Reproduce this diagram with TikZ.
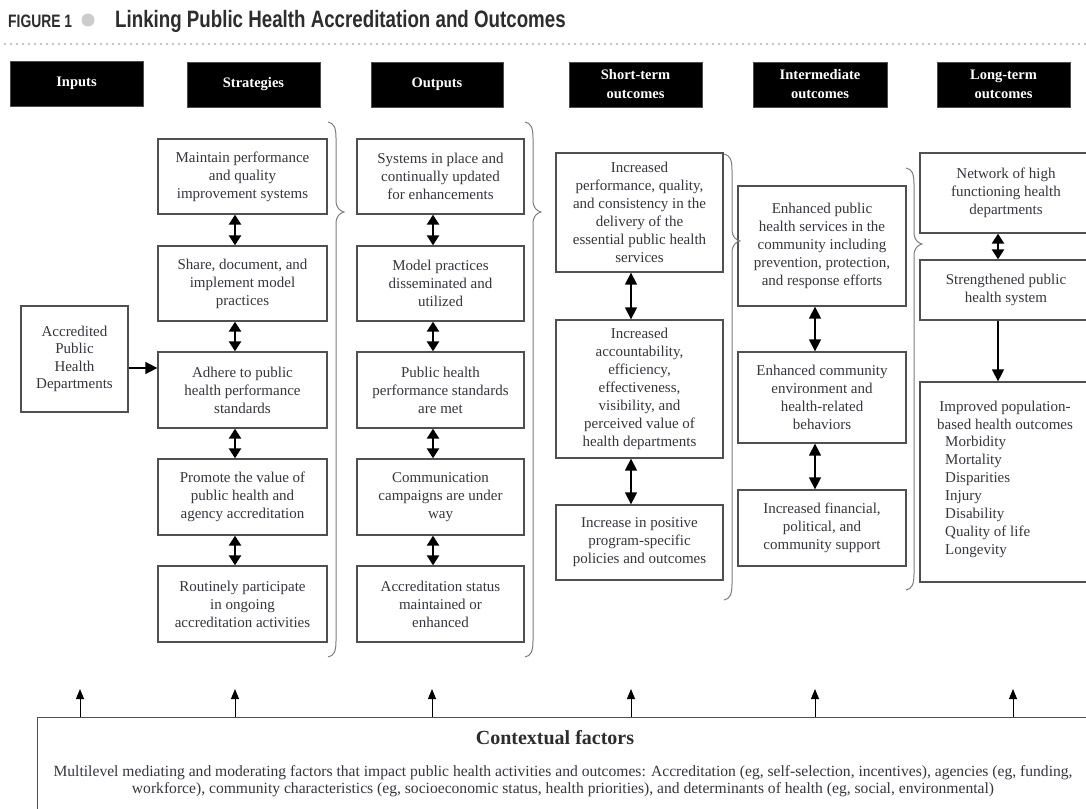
\documentclass[tikz,border=0pt]{standalone}
\usepackage{fontspec}
\setmainfont{Liberation Serif}
\newfontfamily\titlesans{Liberation Sans}
\usetikzlibrary{arrows.meta,calc}
\definecolor{boxgray}{RGB}{80,80,80}
\definecolor{txtgray}{RGB}{55,53,62}
\definecolor{bracegray}{RGB}{125,125,125}
\definecolor{titlegray}{RGB}{45,45,45}
\newcommand\mybrc[4]{%
  \draw[brc] (#1,#2) .. controls (#1+6,#2+1) and (#1+8,#2+6) .. (#1+8,#2+16)
    -- (#1+8,#3-12) .. controls (#1+8,#3-4) and (#1+12,#3-1) .. (#1+16,#3)
    .. controls (#1+12,#3+1) and (#1+8,#3+4) .. (#1+8,#3+12)
    -- (#1+8,#4-16) .. controls (#1+8,#4-6) and (#1+6,#4-1) .. (#1,#4);}
\begin{document}
\begin{tikzpicture}[x=1pt,y=-1pt,
  box/.style={draw=boxgray, line width=1.3pt, align=center, text=txtgray,
    font=\fontsize{15}{18}\selectfont, inner sep=0pt, fill=white},
  hdr/.style={fill=black, draw=black!70, text=white, align=center, inner sep=0pt,
    font=\bfseries\fontsize{14.5}{19}\selectfont},
  txtnode/.style={text=txtgray, inner sep=0pt, font=\fontsize{15}{18}\selectfont},
  brc/.style={draw=bracegray, line width=1pt},
  dbl/.style={line width=2.4pt, {Triangle[length=10pt,width=12pt]}-{Triangle[length=10pt,width=12pt]}},
  dblthin/.style={line width=1.4pt, {Triangle[length=12pt,width=12pt]}-{Triangle[length=12pt,width=12pt]}},
  arr/.style={line width=1.4pt, -{Triangle[length=12pt,width=12pt]}},
  uparr/.style={line width=1pt, -{Triangle[length=10pt,width=8pt]}},
  dotline/.style={draw=gray!60, line width=2.4pt, line cap=round, dash pattern=on 0pt off 6pt}
]
\useasboundingbox (0,0) rectangle (1086,808);
\fill[white] (0,0) rectangle (1086,808);

% title
\node[anchor=west, inner sep=0pt, text=titlegray] (fig) at (8,21)
  {\scalebox{0.77}[1]{\titlesans\bfseries\fontsize{18}{20}\selectfont FIGURE 1}};
\node[circle, fill=gray!40, minimum size=13pt, inner sep=0pt] (dot) at (88,20) {};
\node[anchor=west, inner sep=0pt, text=titlegray] (title) at (115,21)
  {\scalebox{0.79}[1]{\titlesans\bfseries\fontsize{23.7}{26}\selectfont Linking Public Health Accreditation and Outcomes}};
\draw[dotline] (5,44) -- (1086,44);

% headers
\node[hdr, minimum width=133pt, minimum height=45pt] (hin) at (76.5,84) {\raisebox{4pt}{Inputs}};
\node[hdr, minimum width=133pt, minimum height=45pt] (hst) at (253.5,84.5) {\raisebox{2pt}{Strategies}};
\node[hdr, minimum width=132pt, minimum height=45pt] (hout) at (437,84.5) {\raisebox{2pt}{Outputs}};
\node[hdr, minimum width=133pt, minimum height=45pt] (hsh) at (635.5,84.5) {Short-term\\outcomes};
\node[hdr, minimum width=134pt, minimum height=45pt] (hint) at (820,84.5) {Intermediate\\outcomes};
\node[hdr, minimum width=133pt, minimum height=45pt] (hlong) at (1003.5,84.5) {Long-term\\outcomes};

% inputs
\node[box, minimum width=107pt, minimum height=106pt, font=\fontsize{15}{17.3}\selectfont] (inp) at (74.5,359)
  {Accredited\\Public\\Health\\Departments};

% strategies
\node[box, minimum width=169pt, minimum height=75pt] (s1) at (242.5,176.5) {Maintain performance\\and quality\\improvement systems};
\node[box, minimum width=169pt, minimum height=75pt] (s2) at (242.5,283.5) {Share, document, and\\implement model\\practices};
\node[box, minimum width=169pt, minimum height=76pt] (s3) at (242.5,390) {Adhere to public\\health performance\\standards};
\node[box, minimum width=169pt, minimum height=76pt] (s4) at (242.5,497) {Promote the value of\\public health and\\agency accreditation};
\node[box, minimum width=169pt, minimum height=76pt] (s5) at (242.5,604) {Routinely participate\\in ongoing\\accreditation activities};

% outputs
\node[box, minimum width=167pt, minimum height=75pt] (o1) at (440.5,176.5) {Systems in place and\\continually updated\\for enhancements};
\node[box, minimum width=167pt, minimum height=75pt] (o2) at (440.5,283.5) {Model practices\\disseminated and\\utilized};
\node[box, minimum width=167pt, minimum height=76pt] (o3) at (440.5,390) {Public health\\performance standards\\are met};
\node[box, minimum width=167pt, minimum height=76pt] (o4) at (440.5,497) {Communication\\campaigns are under\\way};
\node[box, minimum width=167pt, minimum height=76pt] (o5) at (440.5,604) {Accreditation status\\maintained or\\enhanced};

% short-term
\node[box, minimum width=167pt, minimum height=119pt] (t1) at (639.5,212.5) {Increased\\performance, quality,\\and consistency in the\\delivery of the\\essential public health\\services};
\node[box, minimum width=167pt, minimum height=138pt] (t2) at (639.5,389) {Increased\\accountability,\\efficiency,\\effectiveness,\\visibility, and\\perceived value of\\health departments};
\node[box, minimum width=167pt, minimum height=75pt] (t3) at (639.5,542.5) {Increase in positive\\program-specific\\policies and outcomes};

% intermediate
\node[box, minimum width=168pt, minimum height=120pt] (i1) at (822,246) {Enhanced public\\health services in the\\community including\\prevention, protection,\\and response efforts};
\node[box, minimum width=168pt, minimum height=91pt] (i2) at (822,397.5) {Enhanced community\\environment and\\health-related\\behaviors};
\node[box, minimum width=168pt, minimum height=76pt] (i3) at (822,528) {Increased financial,\\political, and\\community support};

% long-term
\node[box, minimum width=172pt, minimum height=80pt] (l1) at (1006,193) {Network of high\\functioning health\\departments};
\node[box, minimum width=172pt, minimum height=60pt] (l2) at (1006,290) {Strengthened public\\health system};
\node[box, minimum width=172pt, minimum height=200pt] (l3) at (1006,482) {};
\node[txtnode, align=center] (l3head) at (1005,415) {Improved population-\\based health outcomes};
\node[txtnode, align=left, anchor=north west] (l3list) at (945,435.5)
  {Morbidity\\Mortality\\Disparities\\Injury\\Disability\\Quality of life\\Longevity};

% braces
\mybrc{328}{122}{212}{657}
\mybrc{525}{122}{212}{657}
\mybrc{724}{154}{241}{600}
\mybrc{906}{168}{244}{590}

% arrow x positions
\coordinate (xs) at (235,0);
\coordinate (xo) at (433,0);
\coordinate (xt) at (631,0);
\coordinate (xi) at (815,0);
\coordinate (xl) at (998,0);

\draw[arr] (inp.east |- 0,368) -- (s3.west |- 0,368);

\draw[dbl] (s1.south -| xs) -- (s2.north -| xs);
\draw[dbl] (s2.south -| xs) -- (s3.north -| xs);
\draw[dbl] (s3.south -| xs) -- (s4.north -| xs);
\draw[dbl] (s4.south -| xs) -- (s5.north -| xs);

\draw[dbl] (o1.south -| xo) -- (o2.north -| xo);
\draw[dbl] (o2.south -| xo) -- (o3.north -| xo);
\draw[dbl] (o3.south -| xo) -- (o4.north -| xo);
\draw[dbl] (o4.south -| xo) -- (o5.north -| xo);

\draw[dblthin] (t1.south -| xt) -- (t2.north -| xt);
\draw[dblthin] (t2.south -| xt) -- (t3.north -| xt);

\draw[dblthin] (i1.south -| xi) -- (i2.north -| xi);
\draw[dblthin] (i2.south -| xi) -- (i3.north -| xi);

\draw[dbl] (l1.south -| xl) -- (l2.north -| xl);
\draw[arr] (l2.south -| xl) -- (l3.north -| xl);

% contextual factors
\node[draw=boxgray, line width=1.3pt, minimum width=1070pt, minimum height=120pt, anchor=north west, inner sep=0pt] (ctx) at (37,717) {};
\node[text=titlegray, inner sep=0pt, font=\bfseries\fontsize{20}{22}\selectfont] (ctxtitle) at (555,738) {Contextual factors};
\node[text=txtgray, inner sep=0pt, align=center, font=\fontsize{15.6}{17.5}\selectfont] (ctxtext) at (563,781)
  {Multilevel mediating and moderating factors that impact public health activities and outcomes: Accreditation (eg, self-selection, incentives), agencies (eg, funding,\\
   workforce), community characteristics (eg, socioeconomic status, health priorities), and determinants of health (eg, social, environmental)};

\coordinate (u1) at (80,689);
\coordinate (u2) at (235,689);
\coordinate (u3) at (432,689);
\coordinate (u4) at (631,689);
\coordinate (u5) at (815,689);
\coordinate (u6) at (1013,689);
\foreach \u in {u1,u2,u3,u4,u5,u6} \draw[uparr] (ctx.north -| \u) -- (\u);
\end{tikzpicture}
\end{document}
